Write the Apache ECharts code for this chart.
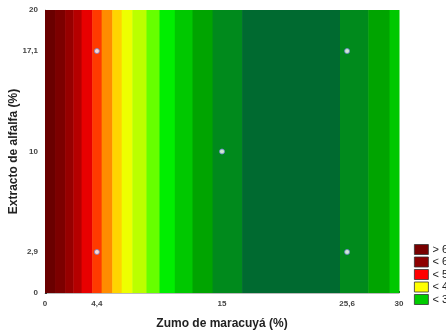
<!DOCTYPE html>
<html>
<head>
<meta charset="UTF-8">
<title>Zumo de maracuyá / Extracto de alfalfa</title>
<script src="https://cdn.jsdelivr.net/npm/echarts@6/dist/echarts.min.js"></script>
<style>
  html, body { margin: 0; padding: 0; background: #fff; }
  #chart { width: 446px; height: 331px; }
</style>
</head>
<body>
<div id="chart"></div>
<script>
// ejes
var xTicks = [0, 4.4, 15, 25.6, 30];
var yTicks = [0, 2.9, 10, 17.1, 20];

// franjas del contorno (la respuesta solo cambia con x)
var bandStart = [0, 0.85, 1.7, 2.4, 3.1, 4.0, 4.8, 5.7, 6.5, 7.4, 8.6, 9.7, 11.0, 12.5, 14.2, 16.7, 25.0, 27.4, 29.2];
var bandEnd   = [0.85, 1.7, 2.4, 3.1, 4.0, 4.8, 5.7, 6.5, 7.4, 8.6, 9.7, 11.0, 12.5, 14.2, 16.7, 25.0, 27.4, 29.2, 30];
var bandLevel = [0, 1, 2, 3, 4, 5, 6, 7, 8, 9, 10, 11, 12, 13, 14, 15, 14, 13, 12];

// puntos del diseño
var designX = [4.4, 4.4, 15, 25.6, 25.6];
var designY = [17.1, 2.9, 10, 17.1, 2.9];

// leyenda
var legendLabels = ['> 6', '< 6', '< 5', '< 4', '< 3'];

var palette = ['#6a0000', '#7c0000', '#960000', '#b50000', '#e80000', '#ff3a00', '#ff8c00', '#ffd400',
               '#eeff00', '#bbff00', '#66ff00', '#00ee00', '#00c800', '#00a400', '#008a1c', '#006a30'];
var legendColors = ['#780000', '#8e0000', '#ff0000', '#ffff00', '#00cc00'];

var bands = [];
for (var i = 0; i < bandStart.length; i++) {
  bands.push([bandStart[i], bandEnd[i], bandLevel[i]]);
}
var points = designX.map(function (x, i) { return [x, designY[i]]; });

function fmt(v) { return String(v).replace('.', ','); }

var yMin = yTicks[0], yMax = yTicks[yTicks.length - 1];

var series = [{
  type: 'custom',
  silent: true,
  data: bands,
  encode: { x: [0, 1] },
  renderItem: function (params, api) {
    var p0 = api.coord([api.value(0), yMax]);
    var p1 = api.coord([api.value(1), yMin]);
    return {
      type: 'rect',
      shape: { x: p0[0], y: p0[1], width: p1[0] - p0[0] + 0.5, height: p1[1] - p0[1] },
      style: { fill: palette[api.value(2)] }
    };
  },
  z: 1
}, {
  type: 'scatter',
  data: points,
  symbolSize: 5,
  itemStyle: { color: '#ffffff', borderColor: '#6f7fd0', borderWidth: 1 },
  z: 5
}];

legendLabels.forEach(function (name, i) {
  series.push({ type: 'bar', name: name, data: [], itemStyle: { color: legendColors[i] } });
});

var chart = echarts.init(document.getElementById('chart'));
chart.setOption({
  animation: false,
  grid: { left: 45, top: 10, right: 47, bottom: 38, containLabel: false, outerBoundsMode: 'none' },
  xAxis: {
    type: 'value', min: 0, max: 30,
    name: 'Zumo de maracuyá (%)', nameLocation: 'middle', nameGap: 25,
    nameTextStyle: { fontFamily: 'Liberation Sans', fontSize: 12, fontWeight: 'bold', color: '#222' },
    axisLine: { show: true, lineStyle: { color: '#bbb' } },
    axisTick: { show: true, inside: true, length: 2, customValues: xTicks, lineStyle: { color: '#333' } },
    axisLabel: { customValues: xTicks, formatter: fmt, fontSize: 8, fontWeight: 'bold', color: '#444', margin: 7, fontFamily: 'Liberation Sans' },
    splitLine: { show: false }
  },
  yAxis: {
    type: 'value', min: 0, max: 20,
    name: 'Extracto de alfalfa (%)', nameLocation: 'middle', nameGap: 25,
    nameMoveOverlap: false,
    nameTextStyle: { fontFamily: 'Liberation Sans', fontSize: 12, fontWeight: 'bold', color: '#222' },
    axisLine: { show: true, lineStyle: { color: '#bbb' } },
    axisTick: { show: true, inside: true, length: 2, customValues: yTicks, lineStyle: { color: '#333' } },
    axisLabel: { customValues: yTicks, formatter: fmt, fontSize: 8, fontWeight: 'bold', color: '#444', margin: 7, fontFamily: 'Liberation Sans' },
    splitLine: { show: false }
  },
  legend: {
    orient: 'vertical', left: 409, top: 239,
    itemWidth: 14, itemHeight: 10, itemGap: 1.5,
    icon: 'rect',
    data: legendLabels,
    itemStyle: { borderColor: '#333', borderWidth: 0.8 },
    textStyle: { fontFamily: 'Liberation Sans', fontSize: 11, color: '#222', padding: [0, 0, 0, -1] },
    selectedMode: false
  },
  series: series
});
</script>
</body>
</html>
